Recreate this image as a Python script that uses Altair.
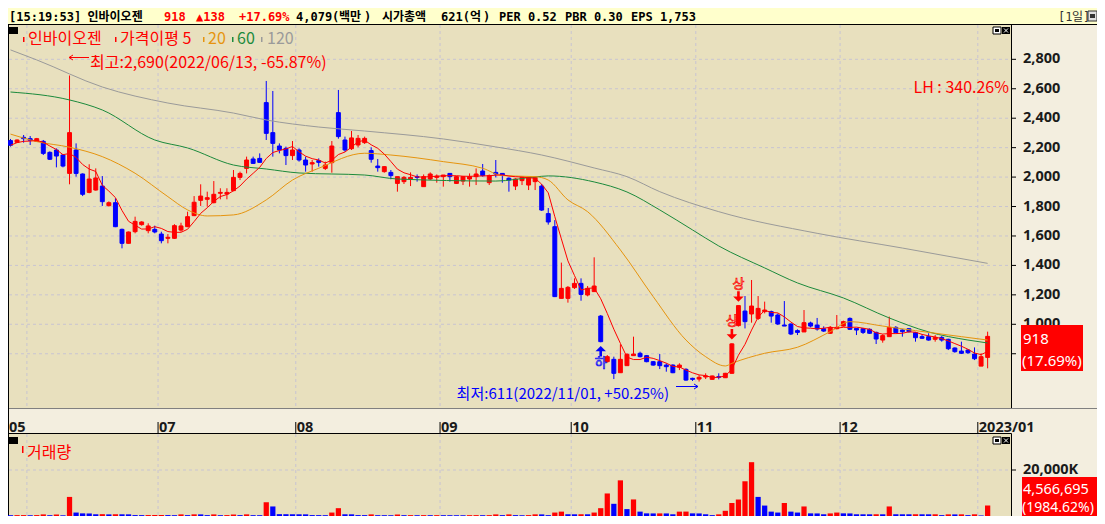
import altair as alt
import pandas as pd

# ---------------- data ----------------
opens = [2248, 2236, 2270, 2261, 2243, 2243, 2168, 2184, 2150, 2025,
         2184, 2021, 1896, 1912, 1939, 1806, 1826, 1645, 1550, 1629,
         1677, 1636, 1645, 1613, 1584, 1584, 1640, 1663, 1738, 1842,
         1849, 1826, 1890, 1885, 1908, 1998, 2059, 2123, 2127, 2506,
         2302, 2211, 2195, 2146, 2184, 2116, 2089, 2112, 2059, 2098,
         2438, 2252, 2193, 2218, 2234, 2180, 2075, 2037, 2032, 1957,
         1969, 1987, 2003, 1935, 1987, 1998, 2003, 2025, 1957, 1973,
         1987, 2003, 2041, 1962, 2032, 2025, 1992, 1939, 1976, 1946,
         1969, 1939, 1752, 1663, 1176, 1176, 1249, 1278, 1199, 1222,
         1056, 746, 762, 671, 719, 787, 803, 787, 746, 746,
         723, 723, 708, 694, 633, 628, 642, 626, 644, 637,
         667, 991, 1090, 1070, 1040, 1086, 1086, 1063, 995, 1002,
         957, 948, 1009, 995, 970, 939, 970, 988, 1040, 972,
         970, 966, 945, 893, 916, 979, 961, 970, 943, 916,
         916, 898, 911, 898, 839, 818, 825, 798, 716, 775]
highs = [2259, 2256, 2286, 2279, 2266, 2252, 2175, 2195, 2155, 2690,
         2229, 2025, 2087, 2059, 2007, 1835, 1856, 1650, 1630, 1731,
         1700, 1686, 1670, 1629, 1613, 1680, 1690, 1765, 1871, 1951,
         1901, 1973, 1924, 1924, 2048, 2037, 2139, 2139, 2161, 2653,
         2585, 2229, 2207, 2245, 2195, 2139, 2116, 2127, 2105, 2245,
         2592, 2275, 2313, 2286, 2275, 2202, 2123, 2075, 2048, 2003,
         2007, 2032, 2018, 2018, 2032, 2018, 2014, 2025, 2007, 2003,
         2025, 2059, 2089, 2018, 2116, 2025, 1998, 1992, 1998, 1998,
         2003, 1953, 1790, 1708, 1419, 1260, 1312, 1312, 1260, 1455,
         1063, 791, 780, 864, 803, 916, 814, 791, 750, 798,
         735, 728, 735, 701, 637, 655, 667, 651, 667, 670,
         871, 1127, 1192, 1301, 1192, 1154, 1093, 1074, 1158, 1006,
         966, 1097, 1018, 1043, 986, 988, 1063, 1025, 1047, 972,
         975, 972, 950, 932, 1052, 988, 966, 972, 948, 932,
         939, 927, 920, 902, 843, 882, 830, 843, 803, 950]
lows = [2207, 2232, 2234, 2218, 2240, 2150, 2116, 2066, 2066, 1951,
        2003, 1871, 1890, 1908, 1804, 1800, 1660, 1516, 1548, 1618,
        1670, 1618, 1618, 1550, 1550, 1580, 1629, 1660, 1735, 1804,
        1799, 1822, 1849, 1849, 1905, 1980, 2025, 2090, 2098, 2252,
        2139, 2161, 2082, 2116, 2105, 2037, 2037, 2071, 2048, 2030,
        2261, 2173, 2184, 2202, 2225, 2098, 2037, 2030, 1985, 1901,
        1953, 1939, 1969, 1935, 1980, 1962, 1935, 1969, 1953, 1946,
        1935, 1946, 2003, 1946, 1998, 1962, 1901, 1912, 1946, 1912,
        1912, 1770, 1677, 1185, 1176, 1147, 1240, 1160, 1190, 1222,
        878, 740, 628, 671, 719, 787, 775, 742, 719, 696,
        678, 668, 689, 617, 615, 611, 628, 624, 626, 635,
        665, 985, 972, 1011, 1029, 1074, 1011, 995, 988, 927,
        927, 948, 979, 957, 948, 934, 966, 984, 961, 927,
        934, 934, 866, 875, 916, 943, 916, 943, 882, 900,
        889, 882, 882, 825, 807, 798, 798, 757, 716, 701]
closes = [2216, 2252, 2261, 2250, 2261, 2161, 2121, 2143, 2075, 2302,
          2025, 1883, 1987, 1994, 1833, 1826, 1663, 1550, 1627, 1699,
          1695, 1668, 1627, 1568, 1591, 1670, 1668, 1731, 1829, 1871,
          1860, 1883, 1896, 1896, 1998, 2025, 2116, 2093, 2100, 2297,
          2229, 2184, 2146, 2184, 2116, 2082, 2098, 2100, 2082, 2211,
          2275, 2184, 2266, 2263, 2263, 2121, 2064, 2071, 2010, 2003,
          1998, 1998, 1998, 2003, 2021, 2007, 2014, 2003, 2003, 2003,
          2003, 2021, 2010, 2010, 2021, 2014, 1980, 1987, 1998, 1998,
          1998, 1776, 1695, 1188, 1244, 1251, 1278, 1203, 1244, 1260,
          882, 780, 667, 762, 796, 798, 780, 746, 723, 719,
          712, 671, 723, 621, 626, 640, 649, 649, 640, 667,
          867, 1127, 1018, 1124, 1108, 1097, 1056, 1002, 988, 934,
          945, 1011, 988, 968, 954, 979, 979, 1018, 966, 961,
          945, 939, 900, 923, 979, 943, 950, 950, 909, 905,
          893, 911, 893, 834, 814, 803, 807, 766, 780, 918]
volume_k = [350, 380, 390, 330, 400, 700, 350, 650, 300, 8300,
            1500, 1150, 1100, 750, 800, 700, 760, 740, 720, 400,
            380, 420, 430, 440, 400, 350, 700, 380, 720, 700,
            380, 700, 350, 400, 650, 380, 720, 360, 340, 6000,
            4150, 800, 780, 760, 740, 720, 400, 380, 350, 1500,
            3400, 750, 730, 400, 380, 700, 360, 350, 330, 650,
            360, 380, 340, 380, 350, 370, 350, 340, 330, 320,
            360, 380, 350, 380, 700, 380, 700, 380, 370, 390,
            720, 700, 380, 1500, 1900, 760, 740, 760, 740, 1500,
            3400, 9800, 5300, 15500, 3000, 7200, 1900, 1150, 1120, 1140,
            1120, 750, 1900, 1920, 1150, 1120, 750, 380, 720, 2260,
            5660, 7170, 15100, 23400, 8300, 4530, 1900, 1500, 5660, 1900,
            1500, 4150, 1150, 1120, 750, 1130, 1500, 1150, 1120, 750,
            740, 730, 760, 740, 4150, 760, 750, 740, 760, 740,
            730, 750, 380, 720, 700, 720, 380, 740, 230, 4567]
# u = red volume bar (more than the day before), d = blue
volume_dir = list("duuduududu" "ddddududdd" "duuuddudud" "duduududdu" "dddddddddu"
                  "uddddudddu" "dudududddd" "uuduududdu" "udduuddudu" "uudududddu"
                  "dduudddduu" "uuuuddddud" "duddduuddd" "ddududddud" "dududududu")

ma20_i = [0, 4, 9, 14, 19, 24, 27, 30, 34, 39, 43, 47, 54, 58, 66, 72, 75, 80, 82, 85,
          88, 93, 98, 103, 106, 109, 110, 115, 120, 125, 128, 133, 138, 145, 149]
ma20_v = [2292, 2241, 2203, 2139, 2026, 1867, 1777, 1736, 1743, 1845, 1980, 2060, 2162, 2150,
          2105, 2060, 2010, 2003, 1980, 1845, 1765, 1505, 1188, 893, 780, 717, 735, 803, 844,
          950, 1018, 988, 957, 916, 893]
ma60_i = [0, 9, 14, 22, 27, 34, 39, 44, 54, 59, 74, 80, 82, 89, 94, 99, 104, 108, 115, 120,
          127, 134, 140, 146, 149]
ma60_v = [2578, 2524, 2456, 2252, 2198, 2082, 2055, 2028, 2014, 1987, 1973, 2001, 2008, 1967,
          1899, 1777, 1641, 1532, 1383, 1281, 1179, 1043, 948, 893, 873]
ma120_i = [0, 4, 14, 24, 34, 39, 47, 54, 66, 74, 81, 89, 94, 99, 108, 123, 136, 149]
ma120_v = [2864, 2796, 2612, 2503, 2435, 2388, 2340, 2313, 2259, 2205, 2150, 2062, 2003, 1901,
           1765, 1618, 1518, 1414]

price_ticks = [800, 1000, 1200, 1400, 1600, 1800, 2000, 2200, 2400, 2600, 2800]
price_labels = [1000, 1200, 1400, 1600, 1800, 2000, 2200, 2400, 2600, 2800]  # 800 hidden by the price box
volume_ticks = [20000]
month_labels = ["05", "07", "08", "09", "10", "11", "12", "2023/01"]
month_pos = [-0.38, 22.5, 43.5, 65.5, 85.5, 104.5, 126.5, 147.5]
month_grid = [2.5, 22.5, 43.5, 65.5, 85.5, 104.5, 126.5, 147.5]
limit_up_idx = [110, 111]
limit_down_idx = [90]

# ---------------- styling ----------------
RED, BLUE = "#FF0000", "#0000FF"
TAN, CREAM, HEAD = "#E8E0BE", "#F3EEDF", "#FFFFCC"
GRID = "#C8C4D2"
C20, C60, C120 = "#E6940E", "#1B8A3C", "#9A9A9A"
KR, NUM, MONO = "Noto Sans CJK KR", "Noto Sans", "DejaVu Sans Mono"
PW = 1003  # price panel plot width

XS = alt.Scale(domain=[-0.3812, 152.562], range=[0, PW], nice=False, zero=False)
PS = alt.Scale(domain=[500, 2900], range=[389.9, 36.6], nice=False, zero=False)
VS = alt.Scale(domain=[0, 20000], range=[508, 462], nice=False, zero=False)

n = len(closes)
df = pd.DataFrame({"i": list(range(n)), "o": opens, "h": highs, "l": lows, "c": closes,
                   "v": volume_k, "vd": volume_dir})
one = pd.DataFrame({"k": [0]})


def box(x1, x2, y1, y2, fill, **kw):
    return alt.Chart(one).mark_rect(fill=fill, **kw).encode(
        x=alt.value(x1), x2=alt.value(x2), y=alt.value(y1), y2=alt.value(y2))


def seg(x1, y1, x2, y2, color, w=1, **kw):
    return alt.Chart(one).mark_rule(color=color, strokeWidth=w, **kw).encode(
        x=alt.value(x1), x2=alt.value(x2), y=alt.value(y1), y2=alt.value(y2))


def label(text, x, y, color="black", size=15, font=NUM, align="left",
          baseline="alphabetic", weight="normal", **kw):
    return alt.Chart(one).mark_text(align=align, baseline=baseline, font=font, fontSize=size,
                                    fontWeight=weight, color=color, **kw).encode(
        x=alt.value(x), y=alt.value(y), text=alt.value(text))


L = []
# backgrounds & frames
L.append(box(0, 1089, 0, 16, HEAD))
L.append(box(0, PW, 17, 400, TAN))
L.append(box(0, PW, 425.5, 508, TAN))
L.append(seg(0, 16.5, 1089, 16.5, "#000000"))
L.append(seg(0, 400.5, 1089, 400.5, "#808080"))
L.append(seg(0, 425.5, PW + 0.5, 425.5, "#000000"))
L.append(seg(PW + 0.5, 17, PW + 0.5, 400, "#000000"))
L.append(seg(PW + 0.5, 425.5, PW + 0.5, 508, "#000000"))
L.append(seg(0.5, 17, 0.5, 508, "#000000"))

# grids
tick_df = pd.DataFrame({"p": price_ticks})
lab_df = pd.DataFrame({"p": price_labels})
L.append(alt.Chart(tick_df).mark_rule(color=GRID, strokeDash=[3, 3]).encode(
    y=alt.Y("p:Q", scale=PS, axis=None), x=alt.value(1), x2=alt.value(PW)))
mg = pd.DataFrame({"b": month_grid})
L.append(alt.Chart(mg).mark_rule(color=GRID, strokeDash=[3, 3]).encode(
    x=alt.X("b:Q", scale=XS, axis=None), y=alt.value(17), y2=alt.value(400)))
L.append(alt.Chart(mg).mark_rule(color=GRID, strokeDash=[3, 3]).encode(
    x=alt.X("b:Q", scale=XS, axis=None), y=alt.value(426), y2=alt.value(508)))
vt = pd.DataFrame({"v": volume_ticks})
L.append(alt.Chart(vt).mark_rule(color=GRID, strokeDash=[3, 3]).encode(
    y=alt.Y("v:Q", scale=VS, axis=None), x=alt.value(1), x2=alt.value(PW)))

# candles
up = alt.condition("datum.c >= datum.o", alt.value(RED), alt.value(BLUE))
L.append(alt.Chart(df).mark_rule(strokeWidth=1).encode(
    x=alt.X("i:Q", scale=XS, axis=None), y=alt.Y("l:Q", scale=PS, axis=None), y2="h:Q",
    color=up))
L.append(alt.Chart(df).transform_calculate(xl="datum.i - 0.3", xr="datum.i + 0.3").mark_rect(
    strokeWidth=1).encode(
    x=alt.X("xl:Q", scale=XS, axis=None), x2="xr:Q",
    y=alt.Y("o:Q", scale=PS, axis=None), y2="c:Q", fill=up, stroke=up))

# moving averages
for idx, vals, col in [(ma120_i, ma120_v, C120), (ma60_i, ma60_v, C60), (ma20_i, ma20_v, C20)]:
    d = pd.DataFrame({"i": idx, "v": vals})
    L.append(alt.Chart(d).mark_line(color=col, strokeWidth=1, interpolate="monotone").encode(
        x=alt.X("i:Q", scale=XS, axis=None), y=alt.Y("v:Q", scale=PS, axis=None)))
L.append(alt.Chart(df).transform_window(ma5="mean(c)", frame=[-4, 0],
                                        sort=[alt.SortField("i", order="ascending")]).mark_line(
    color=RED, strokeWidth=1).encode(
    x=alt.X("i:Q", scale=XS, axis=None), y=alt.Y("ma5:Q", scale=PS, axis=None)))

# volume bars
L.append(alt.Chart(df).transform_calculate(xl="datum.i - 0.4", xr="datum.i + 0.4", z="0").mark_rect().encode(
    x=alt.X("xl:Q", scale=XS, axis=None), x2="xr:Q",
    y=alt.Y("v:Q", scale=VS, axis=None), y2="z:Q",
    color=alt.condition("datum.vd == 'u'", alt.value(RED), alt.value(BLUE))))

# limit up / down markers
DOWN = "M-0.25,-1L0.25,-1L0.25,0L1,0L0,1L-1,0L-0.25,0Z"
UPA = "M-0.25,1L0.25,1L0.25,0L1,0L0,-1L-1,0L-0.25,0Z"
ud = pd.DataFrame({"i": limit_up_idx, "p": [highs[k] for k in limit_up_idx], "t": ["상"] * len(limit_up_idx)})
dd = pd.DataFrame({"i": limit_down_idx, "p": [lows[k] for k in limit_down_idx], "t": ["하"] * len(limit_down_idx)})
L.append(alt.Chart(ud).mark_point(shape=DOWN, size=110, filled=True, color=RED, opacity=1, yOffset=-9).encode(
    x=alt.X("i:Q", scale=XS, axis=None), y=alt.Y("p:Q", scale=PS, axis=None)))
L.append(alt.Chart(ud).mark_text(font=KR, fontSize=13, fillOpacity=0, stroke=RED, strokeWidth=0.7,
                                 baseline="middle", yOffset=-22).encode(
    x=alt.X("i:Q", scale=XS, axis=None), y=alt.Y("p:Q", scale=PS, axis=None), text="t:N"))
L.append(alt.Chart(dd).mark_point(shape=UPA, size=110, filled=True, color=BLUE, opacity=1, yOffset=9).encode(
    x=alt.X("i:Q", scale=XS, axis=None), y=alt.Y("p:Q", scale=PS, axis=None)))
L.append(alt.Chart(dd).mark_text(font=KR, fontSize=13, fillOpacity=0, stroke=BLUE, strokeWidth=0.7,
                                 baseline="middle", yOffset=21).encode(
    x=alt.X("i:Q", scale=XS, axis=None), y=alt.Y("p:Q", scale=PS, axis=None), text="t:N"))

# price axis (right)
L.append(alt.Chart(tick_df).mark_rule(color="black").encode(
    y=alt.Y("p:Q", scale=PS, axis=None), x=alt.value(PW), x2=alt.value(PW + 5)))
L.append(alt.Chart(lab_df).mark_text(align="left", baseline="middle", font=NUM, fontSize=14.5,
                                     fontWeight="bold", color="#1A1A1A").encode(
    y=alt.Y("p:Q", scale=PS, axis=None), x=alt.value(1015), text=alt.Text("p:Q", format=",")))
# volume axis
L.append(alt.Chart(vt).mark_rule(color="black").encode(
    y=alt.Y("v:Q", scale=VS, axis=None), x=alt.value(PW), x2=alt.value(PW + 5)))
L.append(alt.Chart(vt).transform_calculate(t="format(datum.v, ',') + 'K'").mark_text(
    align="left", baseline="middle", font=NUM, fontSize=14.5, fontWeight="bold",
    color="#1A1A1A").encode(
    y=alt.Y("v:Q", scale=VS, axis=None), x=alt.value(1015), text="t:N"))

# month labels
md = pd.DataFrame({"b": month_pos, "t": month_labels})
L.append(alt.Chart(md).mark_rule(color="black").encode(
    x=alt.X("b:Q", scale=XS, axis=None), y=alt.value(414), y2=alt.value(425)))
L.append(alt.Chart(md).mark_text(align="left", font=NUM, fontSize=14.5, fontWeight="bold",
                                 color="#1A1A1A", dx=1).encode(
    x=alt.X("b:Q", scale=XS, axis=None), y=alt.value(420), text="t:N"))

# current price boxes
L.append(box(1013, 1075, 317, 363, RED))
L.append(label("918", 1015, 336, color="white"))
L.append(label("(17.69%)", 1014, 358, color="white"))
L.append(box(1014, 1089, 469, 508, RED))
L.append(label("4,566,695", 1015, 486, color="white", size=14.5))
L.append(label("(1984.62%)", 1014, 504, color="white", size=14))

# header
hb = dict(size=12, font=MONO, weight="bold", y=13)
L.append(label("[15:19:53]", 1, **hb))
L.append(label("인바이오젠", 79.5, 13, size=12, font=KR, weight="bold"))
L.append(label("918", 156, color=RED, **hb))
L.append(label("▲138", 188, color=RED, **hb))
L.append(label("+17.69%", 231, color=RED, **hb))
L.append(label("4,079(", 288, **hb))
L.append(label("백만", 331, 13, size=12, font=KR, weight="bold"))
L.append(label(")", 356, **hb))
L.append(label("시가총액", 374, 13, size=12, font=KR, weight="bold"))
L.append(label("621(", 433, **hb))
L.append(label("억", 462, 13, size=12, font=KR, weight="bold"))
L.append(label(")", 475, **hb))
L.append(label("PER 0.52", 491, **hb))
L.append(label("PBR 0.30", 557, **hb))
L.append(label("EPS 1,753", 623, **hb))
L.append(label("[1", 1050, 13, size=12, font=MONO, color="#333333"))
L.append(label("일", 1064, 13, size=12, font=KR, color="#333333"))
L.append(label("]", 1075, 13, size=12, font=MONO, color="#333333"))
L.append(box(1080, 1089, 3, 13, "#E0E0E0", stroke="#333333", strokeWidth=1))
L.append(box(1082, 1087, 6, 10, "#333333"))

# panel icons
for (yy1, yy2) in [(19, 26), (429, 436)]:
    L.append(box(1, 10, yy1, yy2, "#000000"))
    L.append(box(985, 993, yy1, yy2, "#FFFFFF", stroke="#000000", strokeWidth=1))
    L.append(box(987, 991, yy1 + 2, yy2 - 2, "#000000"))
    L.append(box(994, 1002, yy1, yy2, "#000000"))
    L.append(seg(996, yy1 + 1.5, 1000, yy2 - 1.5, "#FFFFFF"))
    L.append(seg(1000, yy1 + 1.5, 996, yy2 - 1.5, "#FFFFFF"))

# legend (price panel)
L.append(box(15, 16.5, 29, 34, RED))
L.append(label("인바이오젠", 20, 36, color=RED, size=16, font=KR))
L.append(box(107, 108.5, 29, 34, RED))
L.append(label("가격이평 5", 112, 36, color=RED, size=16, font=KR))
L.append(box(195, 196.5, 29, 34, C20))
L.append(label("20", 200, 36, color=C20, size=16, font=KR))
L.append(box(224, 225.5, 29, 34, C60))
L.append(label("60", 229, 36, color=C60, size=16, font=KR))
L.append(box(253, 254.5, 29, 34, C120))
L.append(label("120", 259, 36, color=C120, size=16, font=KR))

# volume legend
L.append(box(14, 15.5, 438, 445, RED))
L.append(label("거래량", 19, 450, color=RED, size=16, font=KR))

# annotations
L.append(seg(61, 49.5, 81, 49.5, RED))
L.append(seg(61, 49.5, 65, 47, RED))
L.append(seg(61, 49.5, 65, 52, RED))
L.append(label("최고:2,690(2022/06/13, -65.87%)", 82, 60, color=RED, size=16, font=KR))
L.append(label("LH : 340.26%", 1001, 85, color=RED, size=16, font=KR, align="right"))
L.append(label("최저:611(2022/11/01, +50.25%)", 661, 391, color=BLUE, size=15, font=KR, align="right"))
L.append(seg(668, 378.5, 690, 378.5, BLUE))
L.append(seg(690, 378.5, 686, 376, BLUE))
L.append(seg(690, 378.5, 686, 381, BLUE))

chart = alt.layer(*L).resolve_scale(y="independent").properties(
    width=1089, height=508, padding=0,
    autosize=alt.AutoSizeParams(type="none"), background=CREAM
).configure_view(stroke=None)

chart.save("out.html", embed_options={"renderer": "svg", "actions": False})
